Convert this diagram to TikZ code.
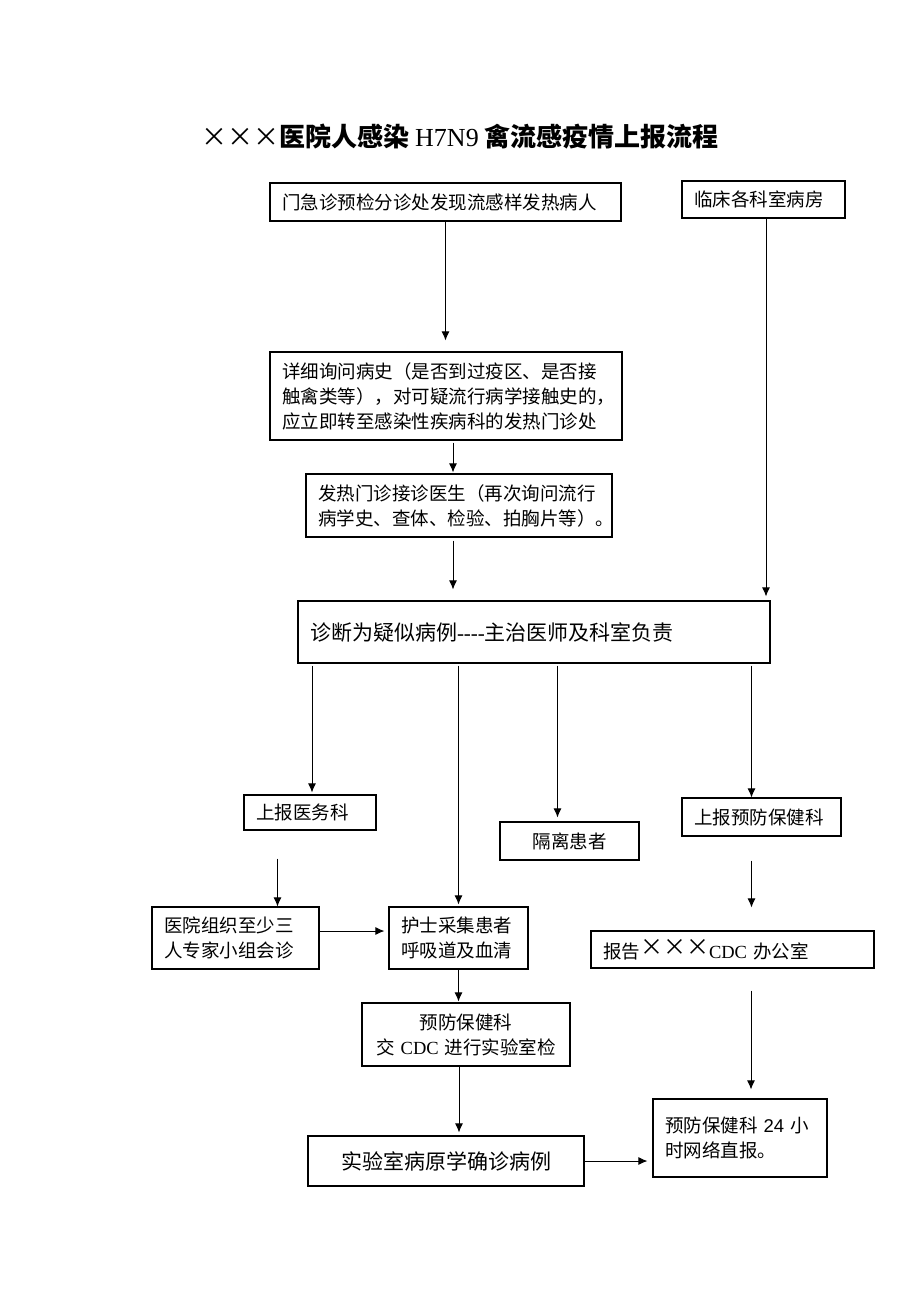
\documentclass[tikz,border=0pt]{standalone}
\usepackage{fontspec}
\setmainfont{Liberation Serif}
\newfontfamily\cjk{Noto Sans CJK SC}
\newfontfamily\arial{Liberation Sans}
\usetikzlibrary{arrows.meta}

\begin{document}
\begin{tikzpicture}[>={Latex[length=9pt,width=8pt]}, x=1pt, y=-1pt,
    box/.style={draw, line width=1.1pt, inner xsep=12pt, inner ysep=0pt, align=left,
        font=\cjk\fontsize{18.5}{25}\selectfont},
    big/.style={font=\cjk\fontsize{21}{26}\selectfont},
    arr/.style={->, line width=1pt}]
    \useasboundingbox (0,0) rectangle (920,1302);

    % Title
    \node (title) at (460,137) [font=\cjk\bfseries\fontsize{26}{30}\selectfont]
        {{\mdseries ×××}医院人感染 \textrm{\mdseries H7N9} 禽流感疫情上报流程};

    % Boxes
    \node (A) at (445.5,202) [box, text width=327pt, minimum height=38pt] {门急诊预检分诊处发现流感样发热病人};
    \node (B) at (763.5,199.5) [box, text width=139pt, minimum height=37pt] {临床各科室病房};
    \node (C) at (446,396) [box, text width=328pt, minimum height=88pt]
        {详细询问病史（是否到过疫区、是否接\\触禽类等），对可疑流行病学接触史的，\\应立即转至感染性疾病科的发热门诊处};
    \node (D) at (459,505.5) [box, text width=282pt, minimum height=63pt]
        {发热门诊接诊医生（再次询问流行\\病学史、查体、检验、拍胸片等）。};
    \node (E) at (534,632) [box, big, text width=448pt, minimum height=62pt]
        {诊断为疑似病例\textrm{-{}-{}-{}-}主治医师及科室负责};
    \node (F) at (310,812.5) [box, text width=108pt, minimum height=35pt] {上报医务科};
    \node (G) at (569.5,841) [box, align=center, text width=115pt, minimum height=38pt] {隔离患者};
    \node (H) at (761.5,817) [box, text width=135pt, minimum height=38pt] {上报预防保健科};
    \node (I) at (235.5,938) [box, text width=143pt, minimum height=62pt] {医院组织至少三\\人专家小组会诊};
    \node (J) at (458.5,938) [box, text width=115pt, minimum height=62pt] {护士采集患者\\呼吸道及血清};
    \node (K) at (732.5,949.5) [box, text width=259pt, minimum height=37pt]
        {报告\raisebox{3pt}{\fontsize{23}{23}\selectfont ×××}\textrm{CDC} 办公室};
    \node (L) at (466,1034.5) [box, align=center, text width=184pt, minimum height=63pt]
        {预防保健科\\交 \textrm{CDC} 进行实验室检};
    \node (M) at (446,1161) [box, big, align=center, text width=252pt, minimum height=50pt] {实验室病原学确诊病例};
    \node (N) at (740,1138) [box, text width=150pt, minimum height=78pt]
        {预防保健科 {\arial 24} 小\\时网络直报。};

    % Arrows
    \draw[arr, shorten >=11pt] (A.south) -- (A.south |- C.north);
    \draw[arr, shorten >=4pt] ([xshift=2.5pt]B.south) -- ([xshift=2.5pt]B.south |- E.north);
    \draw[arr, shorten <=2pt, shorten >=1pt] ([xshift=7pt]C.south) -- ([xshift=7pt]C.south |- D.north);
    \draw[arr, shorten <=3pt, shorten >=11pt] ([xshift=-6pt]D.south) -- ([xshift=-6pt]D.south |- E.north);
    \draw[arr, shorten <=2pt, shorten >=2pt] ([xshift=2pt]F.north |- E.south) -- ([xshift=2pt]F.north);
    \draw[arr, shorten <=2pt, shorten >=2pt] (J.north |- E.south) -- (J.north);
    \draw[arr, shorten <=2pt, shorten >=4pt] ([xshift=-12pt]G.north |- E.south) -- ([xshift=-12pt]G.north);
    \draw[arr, shorten <=2pt] ([xshift=-10pt]H.north |- E.south) -- ([xshift=-10pt]H.north);
    \draw[arr, shorten <=28pt] ([xshift=42pt]I.north |- F.south) -- ([xshift=42pt]I.north);
    \draw[arr, shorten >=4pt] ([yshift=7pt]I.east) -- ([yshift=7pt]I.east -| J.west);
    \draw[arr, shorten >=1pt] (J.south) -- (J.south |- L.north);
    \draw[arr, shorten <=24pt, shorten >=23pt] ([xshift=-10pt]H.south) -- ([xshift=-10pt]H.south |- K.north);
    \draw[arr, shorten <=22pt, shorten >=9pt] ([xshift=18.5pt]K.south) -- ([xshift=18.5pt]K.south |- N.north);
    \draw[arr, shorten >=3pt] ([xshift=-7pt]L.south) -- ([xshift=-7pt]L.south |- M.north);
    \draw[arr, shorten >=5pt] (M.east) -- (M.east -| N.west);
\end{tikzpicture}
\end{document}
